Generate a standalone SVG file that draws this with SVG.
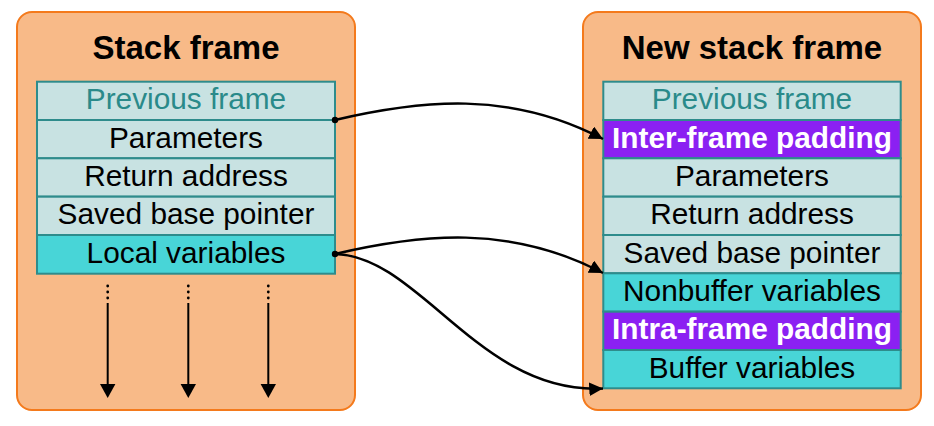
<svg xmlns="http://www.w3.org/2000/svg" width="934" height="426" viewBox="0 0 934 426">
<defs>
<style>
.panel{fill:#F8BA88;stroke:#F47A1C;stroke-width:2}
.title{font-family:"Liberation Sans",Arial,sans-serif;font-weight:bold;font-size:33px;fill:#000;text-anchor:middle}
.row{stroke:#2E8C8C;stroke-width:2}
.lt{fill:#C8E2E2}
.cy{fill:#48D5D7}
.pu{fill:#8B20F2}
.t{font-family:"Liberation Sans",Arial,sans-serif;font-size:29.8px;fill:#000;text-anchor:middle}
.prev{fill:#2A8A8A}
.w{fill:#fff;font-weight:bold}
.con{fill:none;stroke:#000;stroke-width:2.5}
</style>
<marker id="ah" viewBox="0 0 10 10" refX="10" refY="5" markerWidth="5.5" markerHeight="5.5" orient="auto" markerUnits="strokeWidth">
<path d="M0,0 L10,5 L0,10 Z" fill="#000"/>
</marker>
</defs>
<rect width="934" height="426" fill="#fff"/>

<g id="stack-frame">
<rect class="panel" x="17" y="12" width="338" height="398" rx="15"/>
<text class="title" x="186" y="58.5">Stack frame</text>
<rect class="row lt" x="37" y="81.7" width="298" height="38.3"/>
<rect class="row lt" x="37" y="120" width="298" height="38.3"/>
<rect class="row lt" x="37" y="158.3" width="298" height="38.3"/>
<rect class="row lt" x="37" y="196.7" width="298" height="38.3"/>
<rect class="row cy" x="37" y="235" width="298" height="38.7"/>
<text class="t prev" x="186" y="109">Previous frame</text>
<text class="t" x="186" y="147.5">Parameters</text>
<text class="t" x="186" y="185.8">Return address</text>
<text class="t" x="186" y="224.2">Saved base pointer</text>
<text class="t" x="186" y="262.5">Local variables</text>
</g>

<g id="growth-arrows">
<g fill="#000">
<circle cx="107.7" cy="286" r="1.4"/><circle cx="107.7" cy="292" r="1.4"/><circle cx="107.7" cy="298" r="1.4"/>
<circle cx="188.3" cy="286" r="1.4"/><circle cx="188.3" cy="292" r="1.4"/><circle cx="188.3" cy="298" r="1.4"/>
<circle cx="268.3" cy="286" r="1.4"/><circle cx="268.3" cy="292" r="1.4"/><circle cx="268.3" cy="298" r="1.4"/>
</g>
<g stroke="#000" stroke-width="2">
<line x1="107.7" y1="303" x2="107.7" y2="386"/>
<line x1="188.3" y1="303" x2="188.3" y2="386"/>
<line x1="268.3" y1="303" x2="268.3" y2="386"/>
</g>
<g fill="#000">
<path d="M100,384 L115.4,384 L107.7,398 Z"/>
<path d="M180.6,384 L196,384 L188.3,398 Z"/>
<path d="M260.6,384 L276,384 L268.3,398 Z"/>
</g>
</g>

<g id="new-stack-frame">
<rect class="panel" x="583" y="12" width="338" height="398" rx="15"/>
<text class="title" x="752" y="58.5">New stack frame</text>
<rect class="row lt" x="603.3" y="81.7" width="297.4" height="38.3"/>
<rect class="row pu" x="603.3" y="120" width="297.4" height="38.3"/>
<rect class="row lt" x="603.3" y="158.3" width="297.4" height="38.3"/>
<rect class="row lt" x="603.3" y="196.7" width="297.4" height="38.3"/>
<rect class="row lt" x="603.3" y="235" width="297.4" height="38.3"/>
<rect class="row cy" x="603.3" y="273.3" width="297.4" height="38.3"/>
<rect class="row pu" x="603.3" y="311.7" width="297.4" height="38.3"/>
<rect class="row cy" x="603.3" y="350" width="297.4" height="38.3"/>
<text class="t prev" x="752" y="109">Previous frame</text>
<text class="t w" x="752" y="147.5">Inter-frame padding</text>
<text class="t" x="752" y="185.8">Parameters</text>
<text class="t" x="752" y="224.2">Return address</text>
<text class="t" x="752" y="262.5">Saved base pointer</text>
<text class="t" x="752" y="300.8">Nonbuffer variables</text>
<text class="t w" x="752" y="339.2">Intra-frame padding</text>
<text class="t" x="752" y="377.5">Buffer variables</text>
</g>

<g id="connectors">
<path class="con" d="M335,120 C420,100 510,90 603,139" marker-end="url(#ah)"/>
<path class="con" d="M335,254 C420,234 510,224 603,273" marker-end="url(#ah)"/>
<path class="con" d="M335,254 C420,256 480,395 603,388.5" marker-end="url(#ah)"/>
<circle cx="335" cy="120" r="3.2" fill="#000"/>
<circle cx="335" cy="254" r="3.2" fill="#000"/>
</g>
</svg>
